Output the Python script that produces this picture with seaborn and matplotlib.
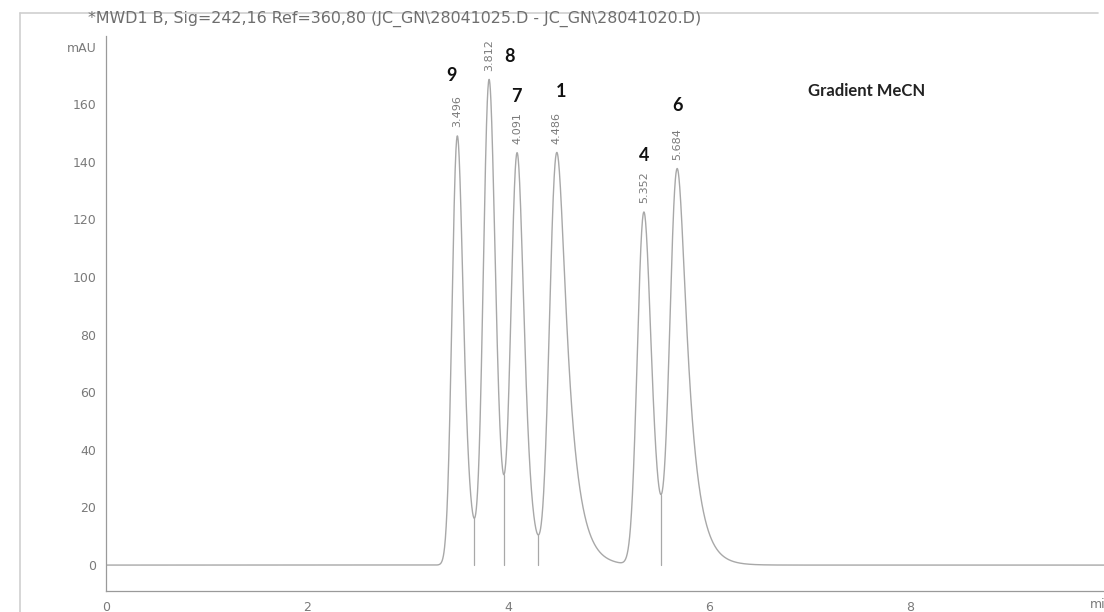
import math

import numpy as np
import pandas as pd
import matplotlib
matplotlib.use("Agg")
import matplotlib.pyplot as plt
from matplotlib.lines import Line2D
from matplotlib.ticker import MultipleLocator, FixedLocator, FixedFormatter
import seaborn as sns

# ---- peak table (HPLC run, signal 242 nm) ----
peak_ids = ["9", "8", "7", "1", "4", "6"]
retention_times = [3.496, 3.812, 4.091, 4.486, 5.352, 5.684]   # min
peak_heights = [149.0, 168.0, 142.0, 143.0, 122.5, 136.5]     # mAU
peak_sigma = [0.045, 0.050, 0.052, 0.056, 0.056, 0.056]        # min, gaussian width
peak_tau = [0.050, 0.046, 0.055, 0.112, 0.060, 0.110]          # min, exponential tailing

y_tick_values = [0, 20, 40, 60, 80, 100, 120, 140, 160, 180]
y_tick_labels = ["0", "20", "40", "60", "80", "100", "120", "140", "160", "mAU"]
x_tick_values = [0, 2, 4, 6, 8]
x_tick_labels = ["0", "2", "4", "6", "8"]

title_text = "*MWD1 B, Sig=242,16 Ref=360,80 (JC_GN\\28041025.D - JC_GN\\28041020.D)"
method_text = "Gradient MeCN"

# ---- layout ----
W, H = 1104, 612
t_max = 9.93
y_min = -9.0
# (dt, dy) of each compound number relative to its peak apex
number_offsets = [(-0.055, 21), (0.20, 8), (-0.01, 19.5), (0.04, 21), (0.0, 19.5), (0.0, 22)]

_erfc = np.vectorize(math.erfc)


def emg(t, sigma, tau):
    """Exponentially modified gaussian (unnormalised)."""
    z = (sigma / tau - t / sigma) / math.sqrt(2.0)
    return np.exp(0.5 * (sigma / tau) ** 2 - t / tau) * _erfc(z)


def peak_profile(t, rt, height, sigma, tau):
    u = np.linspace(-1.0, 2.0, 6001)
    s = emg(u, sigma, tau)
    i = int(np.argmax(s))
    return height * emg(t - rt + u[i], sigma, tau) / s[i]


time = np.linspace(0.0, t_max, 5000)
signal = np.zeros_like(time)
for rt, h, sg, tu in zip(retention_times, peak_heights, peak_sigma, peak_tau):
    signal += peak_profile(time, rt, h, sg, tu)

df = pd.DataFrame({"time": time, "signal": signal})

sns.set_style("white")
plt.rcParams["font.family"] = ["DejaVu Sans"]

fig = plt.figure(figsize=(W / 100, H / 100), dpi=100)
ax = fig.add_axes([106 / W, 21 / H, (W - 106) / W, (591 - 36) / H])

line_col = "#a8a8a8"
sns.lineplot(data=df, x="time", y="signal", ax=ax, color=line_col, lw=1.0)

# integration drop lines at the valleys between neighbouring peaks
for a, b in zip(retention_times[:-1], retention_times[1:]):
    m = (time > a) & (time < b)
    j = np.argmin(signal[m])
    tv, yv = time[m][j], signal[m][j]
    if yv > 1.0:
        ax.plot([tv, tv], [0, yv], color=line_col, lw=0.9)

# retention time labels and compound numbers
for pid, rt, (dt, dy) in zip(peak_ids, retention_times, number_offsets):
    apex = float(np.interp(rt, time, signal))
    ax.text(rt, apex + 3, f"{rt:.3f}", rotation=90, ha="center", va="bottom",
            fontsize=8, color="#7a7a7a")
    ax.text(rt + dt, apex + dy, pid, ha="center", va="center",
            fontsize=13, fontweight="bold", family="Lato", color="#111111")

ax.text(6.98, 164.6, method_text, ha="left", va="center", fontsize=12,
        fontweight="bold", family="Lato", color="#222222")

ax.set_xlim(0, t_max)
ax.set_ylim(y_min, (565 - 36) / 2.88)
ax.set_xlabel("")
ax.set_ylabel("")

ax.yaxis.set_major_locator(FixedLocator(y_tick_values))
ax.yaxis.set_major_formatter(FixedFormatter(y_tick_labels))
ax.yaxis.set_minor_locator(MultipleLocator(4))
ax.xaxis.set_major_locator(FixedLocator(x_tick_values))
ax.xaxis.set_major_formatter(FixedFormatter(x_tick_labels))
ax.xaxis.set_minor_locator(MultipleLocator(0.5))

sns.despine(ax=ax)
for side in ("left", "bottom"):
    ax.spines[side].set_color("#9a9a9a")
    ax.spines[side].set_linewidth(0.9)
ax.tick_params(which="major", direction="out", length=5, width=0.8,
               color="#9a9a9a", labelcolor="#7a7a7a", labelsize=9, pad=2)
ax.tick_params(which="minor", direction="out", length=2.5, width=0.7,
               color="#b0b0b0")

ax.text(0.986, -0.012, "min", transform=ax.transAxes, ha="left", va="top",
        fontsize=9, color="#7a7a7a")

fig.text(88 / W, 1 - 19 / H, title_text, ha="left", va="center",
         fontsize=11.4, color="#6e6e6e")

# light frame around the report page
frame_col = "#cfcfcf"
fig.add_artist(Line2D([20 / W, 20 / W], [0, 1 - 13 / H], transform=fig.transFigure,
                      color=frame_col, lw=1.2))
fig.add_artist(Line2D([20 / W, 1098 / W], [1 - 13 / H, 1 - 13 / H],
                      transform=fig.transFigure, color=frame_col, lw=1.2))

fig.savefig("out.png", dpi=100)
